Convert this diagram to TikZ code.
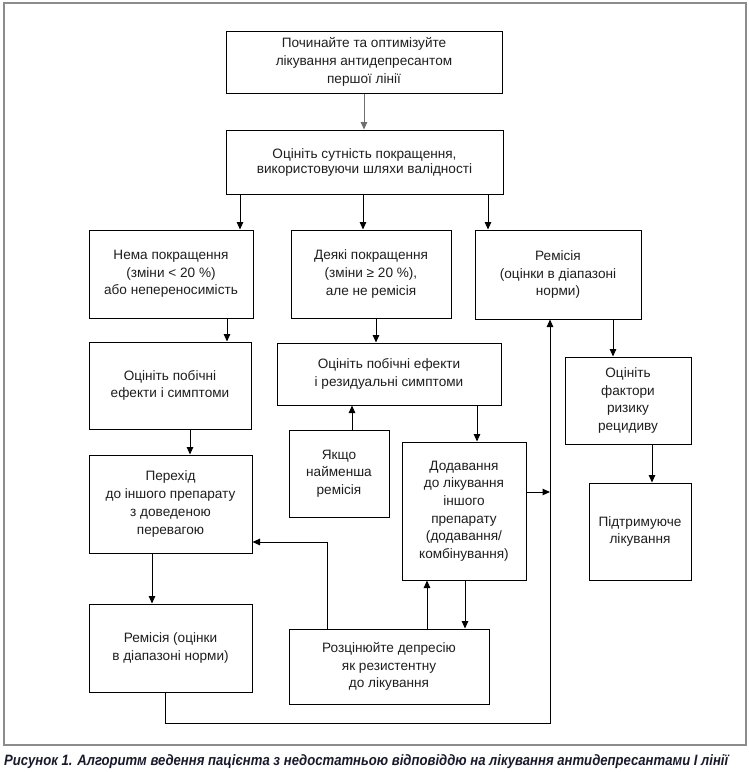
\documentclass[tikz,border=0pt]{standalone}
\usepackage{fontspec}
\usepackage{graphicx}
\setmainfont{Liberation Sans}
\usetikzlibrary{arrows.meta}
\definecolor{txt}{RGB}{30,30,30}
\definecolor{framec}{RGB}{140,140,140}
\definecolor{capc}{RGB}{25,25,45}
\definecolor{greyline}{RGB}{110,110,110}
\begin{document}
\begin{tikzpicture}[x=1pt,y=-1pt,
 box/.style={draw=black, line width=1pt, inner sep=0pt, align=center, text=txt,
   font=\fontsize{13.6}{17.7}\selectfont},
 arr/.style={draw=black, line width=1pt, -{Triangle[length=7.5pt,width=6.5pt]}}]
\useasboundingbox (0,0) rectangle (749,772);
\draw[draw=framec, line width=1.5pt] (4,3) rectangle (746,745);

% boxes
\node[box, minimum width=276, minimum height=62] (A) at (364,62)
  {Починайте та оптимізуйте\\лікування антидепресантом\\першої лінії};
\node[box, minimum width=277, minimum height=64, font=\fontsize{13.6}{15}\selectfont] (B) at (364.5,162)
  {Оцініть сутність покращення,\\використовуючи шляхи валідності};
\node[box, minimum width=164, minimum height=88] (C) at (171,274)
  {Нема покращення\\(зміни < 20~\%)\\або непереносимість};
\node[box, minimum width=160, minimum height=88] (D) at (371,274)
  {Деякі покращення\\(зміни ≥ 20~\%),\\але не ремісія};
\node[box, minimum width=166, minimum height=89] (E) at (558,274.5)
  {Ремісія\\(оцінки в діапазоні\\норми)};
\node[box, minimum width=162, minimum height=87] (F) at (170,385.5)
  {Оцініть побічні\\ефекти і симптоми};
\node[box, minimum width=224, minimum height=62] (G) at (389,374)
  {Оцініть побічні ефекти\\і резидуальні симптоми};
\node[box, minimum width=100, minimum height=87] (H) at (339,473.5)
  {Якщо\\найменша\\ремісія};
\node[box, minimum width=124, minimum height=138] (I) at (464,511)
  {Додавання\\до лікування\\іншого\\препарату\\(додавання/\\комбінування)};
\node[box, minimum width=163, minimum height=98] (J) at (170.5,504)
  {Перехід\\до іншого препарату\\з доведеною\\перевагою};
\node[box, minimum width=163, minimum height=88] (K) at (170.5,648)
  {Ремісія (оцінки\\в діапазоні норми)};
\node[box, minimum width=200, minimum height=75] (L) at (389,666.5)
  {Розцінюйте депресію\\як резистентну\\до лікування};
\node[box, minimum width=126, minimum height=87] (M) at (628,400.5)
  {Оцініть\\фактори\\ризику\\рецидиву};
\node[box, minimum width=102, minimum height=97] (N) at (640,531.5)
  {Підтримуюче\\лікування};

% helper coordinates
\foreach \xx in {152,165,190,227,240,327,352,363,364,376,427,465,477,488,550,613,652}
  {\coordinate (c\xx) at (\xx,0);}
\foreach \yy in {492,542,723}
  {\coordinate (r\yy) at (0,\yy);}

% connectors
\draw[arr, draw=greyline] (A.south -| c364) -- (B.north -| c364);
\draw[arr] (B.south -| c240) -- (C.north -| c240);
\draw[arr] (B.south -| c363) -- (D.north -| c363);
\draw[arr] (B.south -| c488) -- (E.north -| c488);
\draw[arr] (C.south -| c227) -- (F.north -| c227);
\draw[arr] (D.south -| c376) -- (G.north -| c376);
\draw[arr] (H.north -| c352) -- (G.south -| c352);
\draw[arr] (G.south -| c477) -- (I.north -| c477);
\draw[arr] (F.south -| c190) -- (J.north -| c190);
\draw[arr] (J.south -| c152) -- (K.north -| c152);
\draw[arr] (L.north -| c327) |- (J.east |- r542);
\draw[arr] (L.north -| c427) -- (I.south -| c427);
\draw[arr] (I.south -| c465) -- (L.north -| c465);
\draw[arr] (K.south -| c165) |- (r723 -| c550) -- (E.south -| c550);
\draw[arr] (I.east |- r492) -- (c550 |- r492);
\draw[arr] (E.south -| c613) -- (M.north -| c613);
\draw[arr] (M.south -| c652) -- (N.north -| c652);

% caption
\node[anchor=base west, inner sep=0pt, text=capc] (caption) at (4,765)
  {\resizebox{724pt}{\height}{\fontsize{15}{17}\selectfont\bfseries\itshape Рисунок 1. Алгоритм ведення пацієнта з недостатньою відповіддю на лікування антидепресантами І лінії}};
\end{tikzpicture}
\end{document}
